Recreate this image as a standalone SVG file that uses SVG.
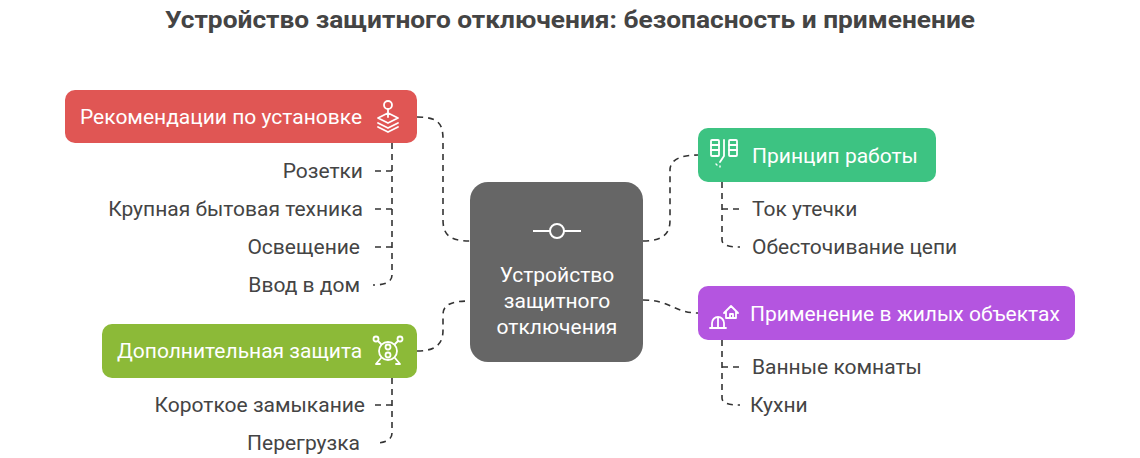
<svg xmlns="http://www.w3.org/2000/svg" width="1140" height="458" viewBox="0 0 1140 458">
<style>
.t{font-family:Roboto,"Liberation Sans",sans-serif;font-size:21px}
.w{fill:#fff}
.d{fill:#444}
.c{fill:none;stroke:#333;stroke-width:1.6;stroke-dasharray:6 5}
.ic{fill:none;stroke:#fff;stroke-width:1.8;stroke-linecap:round;stroke-linejoin:round}
</style>
<rect width="1140" height="458" fill="#fff"/>
<text x="570" y="28" text-anchor="middle" textLength="810" lengthAdjust="spacingAndGlyphs" style="font-family:Roboto,'Liberation Sans',sans-serif;font-size:24px;font-weight:bold" fill="#444">Устройство защитного отключения: безопасность и применение</text>
<g id="connectors">
<path class="c" d="M417 117 C440 117 443 125 443 140 L443 220 C443 235 450 241 470 241"/>
<path class="c" d="M417 351 C440 351 443 340 443 330 L443 315 C443 305 450 301 470 301"/>
<path class="c" d="M643 241 C665 241 670 232 670 220 L670 170 C670 160 680 155 698 155"/>
<path class="c" d="M643 300 C670 300 675 313 698 313"/>
<path class="c" d="M392 143 L392 275 C392 282 385 285 373 285"/>
<path class="c" d="M375 171 H392 M375 209 H392 M375 247 H392"/>
<path class="c" d="M392 378 L392 433 C392 440 385 443 375 443"/>
<path class="c" d="M375 405 H392"/>
<path class="c" d="M722 182 L722 240 C722 245 728 247 740 247"/>
<path class="c" d="M722 209 H740"/>
<path class="c" d="M722 340 L722 398 C722 403 728 405 740 405"/>
<path class="c" d="M722 367 H740"/>
</g>
<g id="center">
<rect x="470" y="182" width="173" height="180" rx="18" fill="#666"/>
<path d="M533 231 H550 M564 231 H581" stroke="#fff" stroke-width="2"/>
<circle cx="557" cy="231" r="7" fill="none" stroke="#fff" stroke-width="2"/>
<text class="t w" text-anchor="middle" x="557" y="282">Устройство</text>
<text class="t w" text-anchor="middle" x="557" y="308">защитного</text>
<text class="t w" text-anchor="middle" x="557" y="334">отключения</text>
</g>
<g id="install">
<rect x="65" y="90" width="352" height="53" rx="10" fill="#e05654"/>
<text class="t w" x="80" y="124">Рекомендации по установке</text>
<g class="ic"><circle cx="388" cy="105" r="4"/><path d="M388 109 V117 M378 118 L388 113 L398 118 L388 123 Z M378 123 L388 128 L398 123 M378 127 L388 132 L398 127"/></g>
<text class="t d" text-anchor="end" x="363" y="178">Розетки</text>
<text class="t d" text-anchor="end" x="363" y="216">Крупная бытовая техника</text>
<text class="t d" text-anchor="end" x="360" y="254">Освещение</text>
<text class="t d" text-anchor="end" x="360" y="292">Ввод в дом</text>
</g>
<g id="extra">
<rect x="102" y="324" width="315" height="54" rx="10" fill="#8cba38"/>
<text class="t w" x="117" y="358">Дополнительная защита</text>
<g class="ic"><circle cx="388" cy="351" r="9"/><circle cx="388" cy="347" r="2.5"/><circle cx="388" cy="355" r="2.5"/><circle cx="376" cy="339" r="2.5"/><circle cx="400" cy="339" r="2.5"/><path d="M378 341 L381 344 M398 341 L395 344 M381 358 L376 364 M395 358 L400 364 M376 364 H380 M400 364 H396"/></g>
<text class="t d" text-anchor="end" x="365" y="412">Короткое замыкание</text>
<text class="t d" text-anchor="end" x="360" y="450">Перегрузка</text>
</g>
<g id="principle">
<rect x="698" y="128" width="238" height="54" rx="10" fill="#3dc382"/>
<g class="ic"><rect x="711" y="140" width="8" height="16" rx="1"/><path d="M711 145 H719 M711 150 H719 M724 140 V156 L720 162"/><rect x="729" y="140" width="8" height="16" rx="1"/><path d="M729 145 H737 M729 150 H737"/><path d="M716 164 L717 165 M720 166 L720 167" stroke-width="1.4"/></g>
<text class="t w" x="752" y="163">Принцип работы</text>
<text class="t d" x="752" y="216">Ток утечки</text>
<text class="t d" x="752" y="254">Обесточивание цепи</text>
</g>
<g id="residential">
<rect x="698" y="286" width="377" height="54" rx="10" fill="#b455e0"/>
<g class="ic"><path d="M710 328 H726 M712 328 V323 A6 6 0 0 1 724 323 V328 M718 317 V328 M724 313 L731 306 L738 313 M726 311 V318 H736 V311 M730 318 V314 H733 V318"/></g>
<text class="t w" x="750" y="321">Применение в жилых объектах</text>
<text class="t d" x="752" y="374">Ванные комнаты</text>
<text class="t d" x="750" y="412">Кухни</text>
</g>
</svg>
